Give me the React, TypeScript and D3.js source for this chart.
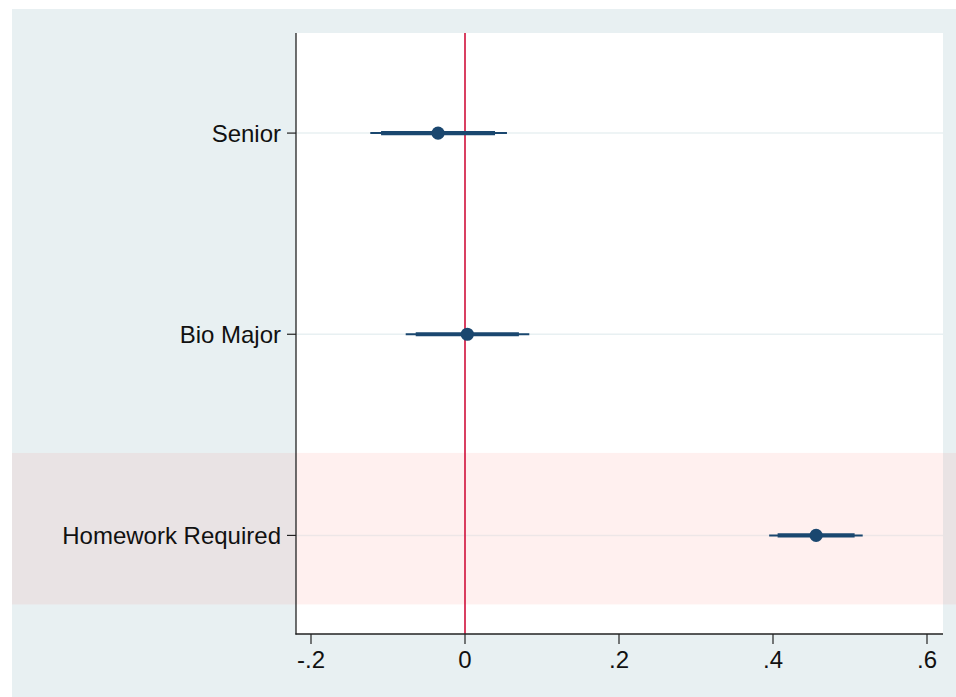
import React from "react";
import * as d3 from "d3";

const categories = ["Senior", "Bio Major", "Homework Required"];
const estimates = [-0.035, 0.003, 0.456];
const ci95Low = [-0.123, -0.077, 0.395];
const ci95High = [0.0545, 0.0835, 0.5165];
const ci90Low = [-0.109, -0.064, 0.406];
const ci90High = [0.039, 0.070, 0.506];
const xTicks = [-0.2, 0, 0.2, 0.4, 0.6];
const xTickLabels = ["-.2", "0", ".2", ".4", ".6"];
const highlighted = ["Homework Required"];

const W = 956;
const H = 697;
const plotL = 296;
const plotR = 943;
const plotT = 33;
const plotB = 634;
const FONT = "'Liberation Sans', Arial, Helvetica, sans-serif";
const NAVY = "#1a476f";

export default function App() {
  const x = d3.scaleLinear().domain([-0.2, 0.6]).range([311, 927]);
  const xMin = x.invert(plotL);
  const xMax = x.invert(plotR);
  const xs = d3.scaleLinear().domain([xMin, xMax]).range([plotL, plotR]);
  const y = d3.scalePoint<string>().domain(categories).range([32.5, 636]).padding(0.5);
  const step = y.step();

  return (
    <svg width={W} height={H} style={{ position: "absolute", left: 0, top: 0 }}>
      <rect x={0} y={0} width={W} height={H} fill="#ffffff" />
      <rect x={12} y={9} width={W - 12} height={H - 9} fill="#e8f0f2" />
      <rect x={plotL} y={plotT} width={plotR - plotL} height={plotB - plotT} fill="#ffffff" />
      {highlighted.map((c) => {
        const cy = y(c)!;
        const top = cy - step * 0.41;
        const bot = cy + step * 0.343;
        return (
          <g key={c}>
            <rect x={12} y={top} width={plotL - 12} height={bot - top} fill="#e9e3e4" />
            <rect x={plotL} y={top} width={plotR - plotL} height={bot - top} fill="#fff0ef" />
            <rect x={plotR} y={top} width={W - plotR} height={bot - top} fill="#e9e3e4" />
          </g>
        );
      })}
      {categories.map((c) => (
        <line
          key={"g" + c}
          x1={plotL}
          x2={plotR}
          y1={y(c)}
          y2={y(c)}
          stroke={highlighted.includes(c) ? "#ede6e7" : "#e8f0f2"}
          strokeWidth={1.5}
        />
      ))}
      <line x1={xs(0)} x2={xs(0)} y1={plotT} y2={plotB} stroke="#d0103a" strokeWidth={1.6} />
      {categories.map((c, i) => {
        const cy = y(c)!;
        return (
          <g key={"m" + c}>
            <line x1={xs(ci95Low[i])} x2={xs(ci95High[i])} y1={cy} y2={cy} stroke={NAVY} strokeWidth={2} />
            <line x1={xs(ci90Low[i])} x2={xs(ci90High[i])} y1={cy} y2={cy} stroke={NAVY} strokeWidth={4.2} />
            <circle cx={xs(estimates[i])} cy={cy} r={6.6} fill={NAVY} />
          </g>
        );
      })}
      {/* y axis */}
      <line x1={plotL} x2={plotL} y1={plotT} y2={plotB + 0.5} stroke="#222" strokeWidth={1.3} />
      {categories.map((c) => (
        <g key={"t" + c}>
          <line x1={plotL - 9} x2={plotL} y1={y(c)} y2={y(c)} stroke="#222" strokeWidth={1.2} />
          <text
            x={plotL - 15}
            y={y(c)! + 9}
            textAnchor="end"
            fontFamily={FONT}
            fontSize={24}
            fill="#111"
          >
            {c}
          </text>
        </g>
      ))}
      {/* x axis */}
      <line x1={plotL - 0.6} x2={plotR} y1={plotB} y2={plotB} stroke="#222" strokeWidth={1.3} />
      {xTicks.map((t, i) => (
        <g key={"x" + t}>
          <line x1={xs(t)} x2={xs(t)} y1={plotB} y2={plotB + 10} stroke="#222" strokeWidth={1.2} />
          <text
            x={xs(t)}
            y={668}
            textAnchor="middle"
            fontFamily={FONT}
            fontSize={24}
            fill="#111"
          >
            {xTickLabels[i]}
          </text>
        </g>
      ))}
    </svg>
  );
}
